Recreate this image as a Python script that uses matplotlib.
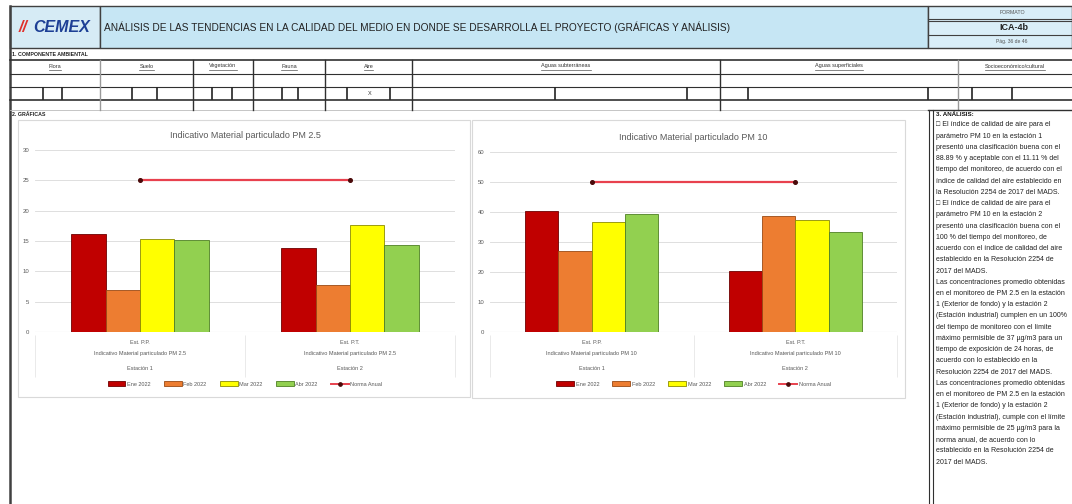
import numpy as np
import matplotlib.pyplot as plt
from matplotlib.patches import Rectangle
from matplotlib.lines import Line2D

plt.rcParams['font.family'] = ['Liberation Sans', 'DejaVu Sans']

# --- datos ---
periodos = ['Ene 2022', 'Feb 2022', 'Mar 2022', 'Abr 2022']
colores = ['#C00000', '#ED7D31', '#FFFF00', '#92D050']
bordes = ['#6e0000', '#9a4a14', '#8c8c00', '#4f7f24']
puntos = ['Est. P.P.', 'Est. P.T.']
estaciones = ['Estación 1', 'Estación 2']

# una fila por periodo, una columna por estacion
pm25 = [[16.1, 13.9],
        [7.0, 7.7],
        [15.3, 17.7],
        [15.1, 14.4]]
pm10 = [[40.3, 20.2],
        [27.0, 38.6],
        [36.6, 37.3],
        [39.4, 33.3]]
norma_pm25 = 25
norma_pm10 = 50

componentes = ['Flora', 'Suelo', 'Vegetación', 'Fauna', 'Aire',
               'Aguas subterráneas', 'Aguas superficiales', 'Socioeconómico/cultural']

parrafos = [
    '□ El índice de calidad de aire para el parámetro PM 10 en la estación 1 presentó '
    'una clasificación buena con el 88.89 % y aceptable con el 11.11 % del tiempo del '
    'monitoreo, de acuerdo con el índice de calidad del aire establecido en la '
    'Resolución 2254 de 2017 del MADS.',
    '□ El índice de calidad de aire para el parámetro PM 10 en la estación 2 presentó '
    'una clasificación buena con el 100 % del tiempo del monitoreo, de acuerdo con el '
    'índice de calidad del aire establecido en la Resolución 2254 de 2017 del MADS.',
    'Las concentraciones promedio obtenidas en el monitoreo de PM 2.5 en la estación 1 '
    '(Exterior de fondo) y la estación 2 (Estación industrial) cumplen en un 100% del '
    'tiempo de monitoreo con el límite máximo permisible de 37 µg/m3 para un tiempo de '
    'exposición de 24 horas, de acuerdo con lo establecido en la Resolución 2254 de '
    '2017 del MADS.',
    'Las concentraciones promedio obtenidas en el monitoreo de PM 2.5 en la estación 1 '
    '(Exterior de fondo) y la estación 2 (Estación industrial), cumple con el límite '
    'máximo permisible de 25 µg/m3 para la norma anual, de acuerdo con lo establecido '
    'en la Resolución 2254 de 2017 del MADS.',
]

W, H = 1072, 504
fig = plt.figure(figsize=(W / 100, H / 100), dpi=100)
fig.patch.set_facecolor('white')


def px(x, y, w, h):
    return [x / W, 1 - (y + h) / H, w / W, h / H]


# --- hoja de fondo en pixeles ---
fondo = fig.add_axes([0, 0, 1, 1])
fondo.set_xlim(0, W)
fondo.set_ylim(H, 0)
fondo.axis('off')

# encabezado
fondo.add_patch(Rectangle((10, 6), 90, 42, fc='#d6ebf5', ec='#404040', lw=1))
fondo.add_patch(Rectangle((100, 6), 828, 42, fc='#c6e6f4', ec='#404040', lw=1))
fondo.add_patch(Rectangle((928, 6), 144, 42, fc='#d9eef8', ec='#404040', lw=1))
fondo.text(19, 27, '//', color='#e0312c', fontsize=11.5, fontweight='bold',
           fontstyle='italic', va='center')
fondo.text(33, 27, 'CEMEX', color='#1d3f95', fontsize=11.5, fontweight='bold',
           fontstyle='italic', va='center')
fondo.text(104, 27, 'ANÁLISIS DE LAS TENDENCIAS EN LA CALIDAD DEL MEDIO EN DONDE SE '
           'DESARROLLA EL PROYECTO (GRÁFICAS Y ANÁLISIS)',
           fontsize=7.25, va='center', color='#222222')
fondo.text(1012, 13, 'FORMATO', fontsize=3.8, ha='center', va='center', color='#555555')
fondo.plot([928, 1072], [18.5, 18.5], color='#404040', lw=0.8)
fondo.plot([928, 1072], [20.5, 20.5], color='#404040', lw=0.8)
fondo.text(1014, 28, 'ICA-4b', fontsize=6.5, fontweight='bold', ha='center',
           va='center', color='#222222')
fondo.plot([928, 1072], [35, 35], color='#404040', lw=0.8)
fondo.text(1012, 42, 'Pág. 36 de 46', fontsize=3.6, ha='center', va='center',
           color='#555555')
fondo.plot([10, 10], [6, H], color='#404040', lw=1.8)

# 1. componente ambiental
fondo.text(12, 55, '1. COMPONENTE AMBIENTAL', fontsize=3.8, fontweight='bold',
           va='center', color='#222222')
for y, lw in [(60, 1.2), (74, 0.8), (87, 0.8), (100, 1.2)]:
    fondo.plot([10, 1072], [y, y], color='#303030', lw=lw)
fondo.plot([10, 928], [110, 110], color='#bbbbbb', lw=0.6)
cortes = [10, 100, 193, 253, 325, 412, 720, 958, 1072]
for x in cortes[1:-1]:
    fondo.plot([x, x], [60, 110], color='#303030' if x not in (100, 958) else '#999999',
               lw=1.0)
fig.canvas.draw()
rend = fig.canvas.get_renderer()
for i, nombre in enumerate(componentes):
    xc = (cortes[i] + cortes[i + 1]) / 2
    t = fondo.text(xc, 66, nombre, fontsize=4, ha='center', va='center', color='#333333')
    bb = t.get_window_extent(rend)
    fondo.plot([xc - bb.width / 2, xc + bb.width / 2], [70, 70], color='#555555', lw=0.5)
marcas = [43, 62, 132, 157, 212, 232, 282, 298, 347, 390, 555, 687, 748, 928, 972, 1012]
for x in marcas:
    fondo.plot([x, x], [88, 99], color='#222222', lw=1.2)
fondo.text(370, 93.5, 'X', fontsize=4, ha='center', va='center', color='#333333')

# 2. graficas / 3. analisis
fondo.text(12, 114, '2. GRÁFICAS', fontsize=3.8, fontweight='bold', va='center',
           color='#222222')
fondo.plot([928, 1072], [110, 110], color='#303030', lw=1)
fondo.plot([929, 929], [110, H], color='#303030', lw=0.8)
fondo.plot([933, 933], [110, H], color='#303030', lw=0.8)
fondo.text(936, 115, '3. ANÁLISIS:', fontsize=4.5, fontweight='bold', va='center',
           color='#111111')

# partir el texto del analisis para que quepa en la columna
tam = 5.0
ancho_max = 1068 - 936
lineas = []
for p in parrafos:
    actual = ''
    for palabra in p.split():
        prueba = (actual + ' ' + palabra).strip()
        t = fondo.text(0, 0, prueba, fontsize=tam)
        w = t.get_window_extent(rend).width
        t.remove()
        if w > ancho_max and actual:
            lineas.append(actual)
            actual = palabra
        else:
            actual = prueba
    lineas.append(actual)
paso_linea = (462 - 125) / (len(lineas) - 1)
for i, linea in enumerate(lineas):
    fondo.text(936, 125 + i * paso_linea, linea, fontsize=tam, va='center',
               color='#222222')


def grafica(caja, area, titulo, nivel2, datos, norma, ymax, paso):
    bx, by, bw, bh = caja
    fondo.add_patch(Rectangle((bx, by), bw, bh, fc='white', ec='#d9d9d9', lw=0.8))
    ax = fig.add_axes(px(*area))
    ax.set_facecolor('none')
    alto = area[3]
    x = np.arange(len(puntos))
    ancho = 0.164
    for i, per in enumerate(periodos):
        ax.bar(x + (i - 1.5) * ancho, datos[i], ancho, color=colores[i],
               edgecolor=bordes[i], lw=0.6, zorder=3)
    ax.plot(x, [norma] * len(x), color='#e8414e', lw=1.6, marker='o', ms=2.6,
            mfc='#4a0a0a', mec='#4a0a0a', zorder=4)
    ax.set_xlim(-0.5, 1.5)
    ax.set_ylim(0, ymax)
    ax.set_yticks(np.arange(0, ymax + 1, paso))
    ax.yaxis.grid(True, color='#d9d9d9', lw=0.6)
    ax.set_axisbelow(True)
    for s in ax.spines.values():
        s.set_visible(False)
    ax.axhline(0, color='#d9d9d9', lw=0.8)
    ax.tick_params(axis='y', length=0, labelsize=4.3, labelcolor='#595959', pad=4)
    ax.set_xticks([])
    ax.text(0.5, 1 + 15 / alto, titulo, transform=ax.transAxes, ha='center',
            va='center', fontsize=6.5, color='#595959')
    tr = ax.get_xaxis_transform()
    ax.vlines([-0.5, 0.5, 1.5], -45 / alto, -3 / alto, transform=tr, colors='#e6e6e6',
              lw=0.6, clip_on=False)
    for j in range(len(puntos)):
        ax.text(x[j], -10 / alto, puntos[j], transform=tr, ha='center', va='center',
                fontsize=4, color='#595959')
        ax.text(x[j], -22 / alto, nivel2, transform=tr, ha='center', va='center',
                fontsize=4, color='#595959')
        ax.text(x[j], -37 / alto, estaciones[j], transform=tr, ha='center', va='center',
                fontsize=4, color='#595959')
    manejadores = [Rectangle((0, 0), 1, 1, fc=colores[i], ec=bordes[i], lw=0.6)
                   for i in range(len(periodos))]
    manejadores.append(Line2D([], [], color='#e8414e', lw=1.4, marker='o', ms=2.4,
                              mfc='#4a0a0a', mec='#4a0a0a'))
    ax.legend(manejadores, periodos + ['Norma Anual'], loc='center',
              bbox_to_anchor=(0.5, -52 / alto), ncol=5, fontsize=4, frameon=False,
              handlelength=3.2, handleheight=0.9, columnspacing=2.4, handletextpad=0.3,
              labelcolor='#595959')
    return ax


grafica((18, 120, 452, 277), (35, 150, 420, 182),
        'Indicativo Material particulado PM 2.5',
        'Indicativo Material particulado PM 2.5', pm25, norma_pm25, 30, 5)
grafica((472, 120, 433, 278), (490, 152, 407, 180),
        'Indicativo Material particulado PM 10',
        'Indicativo Material particulado PM 10', pm10, norma_pm10, 60, 10)

fig.savefig('out.png', dpi=100, facecolor='white')
